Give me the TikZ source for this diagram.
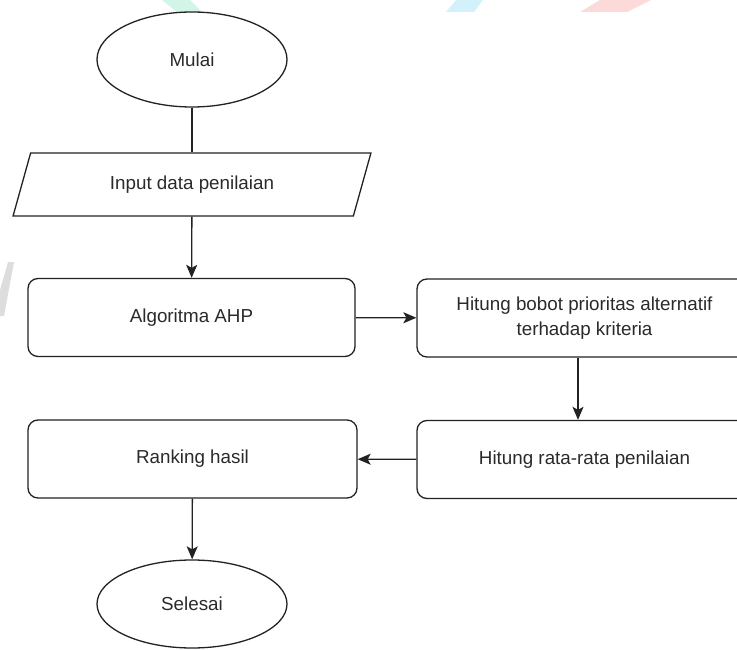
\documentclass[tikz,border=0pt]{standalone}
\usepackage{fontspec}
\setmainfont{Liberation Sans}
\usetikzlibrary{shapes.geometric,arrows.meta}
\definecolor{linec}{HTML}{222222}
\definecolor{textc}{HTML}{2A2A2A}
\definecolor{wmgreen}{HTML}{D3F5E7}
\definecolor{wmcyan}{HTML}{D2F1FB}
\definecolor{wmred}{HTML}{FCDADA}
\definecolor{wmgray}{HTML}{DDDDDD}
\tikzset{
  base/.style={draw=linec, line width=1.3pt, text=textc, font=\fontsize{18.8}{25}\selectfont, align=center, inner sep=0pt},
  term/.style={base, ellipse, minimum width=190pt, minimum height=95pt},
  iobox/.style={base, trapezium, trapezium left angle=63, trapezium right angle=117, trapezium stretches=true, minimum width=358pt, minimum height=63pt},
  procbox/.style={base, rectangle, rounded corners=10pt, minimum height=78pt},
  conn/.style={draw=linec, line width=1.3pt},
  arr/.style={conn, -{Stealth[length=13pt,width=11pt,inset=3pt]}}
}
\begin{document}
\begin{tikzpicture}[x=1pt,y=-1pt]
\useasboundingbox (0,0) rectangle (737,650);
\clip (0,0) rectangle (737,650);
% watermark fragments
\fill[wmgreen] (162,0) -- (190,0) -- (202,12) -- (177,12) -- cycle;
\fill[wmcyan] (456,0) -- (483,0) -- (474,12) -- (446,12) -- cycle;
\fill[wmred] (600,0) -- (651,0) -- (627,12) -- (580,12) -- cycle;
\fill[wmgray] (8,262) -- (14,262) -- (4,316) -- (0,316) -- (0,290) -- cycle;
% nodes
\node[term] (mulai) at (192,59.5) {Mulai};
\node[iobox] (input) at (192,184.5) {Input data penilaian};
\node[procbox, minimum width=327pt] (ahp) at (191.5,317.5) {Algoritma AHP};
\node[procbox, minimum width=335pt] (bobot) at (584.5,318) {Hitung bobot prioritas alternatif\\terhadap kriteria};
\node[procbox, minimum width=335pt] (rata) at (584.5,459.5) {Hitung rata-rata penilaian};
\node[procbox, minimum width=329pt] (rank) at (192.5,459) {Ranking hasil};
\node[term, minimum height=88pt] (selesai) at (192,604) {Selesai};
% connectors
\draw[conn] (mulai) -- (input);
\draw[arr] (input) -- (ahp);
\draw[arr] (ahp) -- (bobot);
\draw[arr] ([xshift=-6.5pt]bobot.south) -- ([xshift=-6.5pt]rata.north);
\draw[arr] (rata) -- (rank);
\draw[arr] (rank) -- (selesai);
\end{tikzpicture}
\end{document}
